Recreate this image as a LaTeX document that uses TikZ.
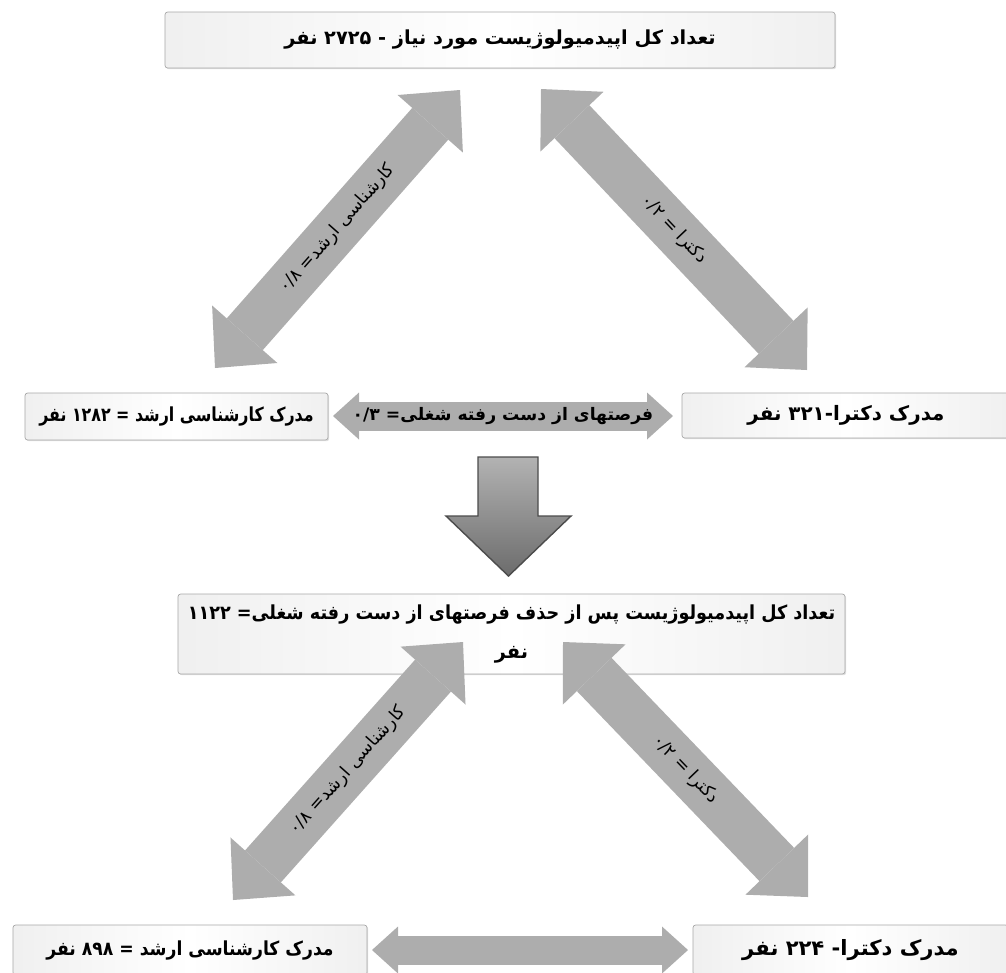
\documentclass[tikz,border=0pt]{standalone}
\usepackage{graphicx}
\usepackage{fontspec}
\newfontfamily\fafont[Script=Arabic]{DejaVu Sans}
\TeXXeTstate=1
\usetikzlibrary{arrows.meta}
\usetikzlibrary{shadows}
\usetikzlibrary{positioning}

\definecolor{arrowgray}{HTML}{ADADAD}
\definecolor{downgray}{HTML}{7F7F7F}
\definecolor{boxline}{HTML}{A8A8A8}

\begin{document}
\begin{tikzpicture}[x=0.2mm, y=-0.2mm]
  \tikzstyle{infobox} = [draw=boxline, rounded corners=1.5pt, inner sep=0pt,
                         left color=gray!12, right color=gray!12, middle color=white,
                         drop shadow={shadow xshift=0.7pt, shadow yshift=-0.7pt, opacity=0.25}]
  \tikzset{boxtext/.style={font=\fafont\bfseries\fontsize{#1}{22}\selectfont},
           boxtext/.default=11}
  \tikzstyle{fatarrow} = [draw=arrowgray, line width=9.6mm,
                          {Triangle[length=9mm, width=17.4mm, line width=0pt]}-{Triangle[length=9mm, width=17.4mm, line width=0pt]}]
  \tikzstyle{flatarrow} = [draw=arrowgray, line width=5.8mm,
                           {Triangle[length=5.2mm, width=9.4mm, line width=0pt]}-{Triangle[length=5.2mm, width=9.4mm, line width=0pt]}]
  \tikzstyle{arrtext} = [font=\fafont\fontsize{10}{12}\selectfont, text=black]

  \useasboundingbox (0,0) rectangle (1006,972);

  % Boxes, first round
  \node[infobox, boxtext, minimum width=134mm, minimum height=11.2mm] (total) at (500,40)
    {\beginR تعداد کل اپیدمیولوژیست مورد نیاز - ۲۷۲۵ نفر\endR};
  \node[infobox, boxtext, minimum width=60.6mm, minimum height=9.4mm] (ms) at (176.5,416.5)
    {\scalebox{0.82}[1]{\beginR مدرک کارشناسی ارشد = ۱۲۸۲ نفر\endR}};
  \node[infobox, boxtext=11.3, minimum width=65.6mm, minimum height=9mm] (phd) at (846,415.5)
    {\beginR مدرک دکترا-۳۲۱ نفر\endR};

  % Boxes, second round
  \node[infobox, boxtext, align=center, minimum width=133.4mm, minimum height=16mm] (rest) at (511.5,634)
    {\scalebox{0.91}[1]{\beginR تعداد کل اپیدمیولوژیست پس از حذف فرصتهای از دست رفته شغلی= ۱۱۲۲\endR}\\ \beginR نفر\endR};
  \node[infobox, boxtext, minimum width=70.8mm, minimum height=10mm] (ms2) at (190,950)
    {\scalebox{0.89}[1]{\beginR مدرک کارشناسی ارشد = ۸۹۸ نفر\endR}};
  \node[infobox, boxtext=12, minimum width=63mm, minimum height=10mm] (phd2) at (850.5,950)
    {\beginR مدرک دکترا- ۲۲۴ نفر\endR};

  % Arrow ends
  \coordinate (ul-a) at (215,368);  \coordinate (ul-b) at (460,90);
  \coordinate (ur-a) at (541,89);   \coordinate (ur-b) at (807,370);
  \coordinate (mid-a) at (333,416); \coordinate (mid-b) at (673,416);
  \coordinate (ll-a) at (233,900);  \coordinate (ll-b) at (463,642);
  \coordinate (lr-a) at (563,642);  \coordinate (lr-b) at (808,897);
  \coordinate (bot-a) at (372,950); \coordinate (bot-b) at (688,950);

  % Arrows
  \draw[fatarrow] (ul-a) -- node[sloped, arrtext] {\beginR کارشناسی ارشد= ۰/۸\endR} (ul-b);
  \draw[fatarrow] (ur-a) -- node[sloped, arrtext] {\beginR دکترا = ۰/۲\endR} (ur-b);
  \draw[flatarrow] (mid-a) -- node[boxtext=9.8] {\beginR فرصتهای از دست رفته شغلی= ۰/۳\endR} (mid-b);
  \draw[fatarrow] (ll-a) -- node[sloped, arrtext] {\beginR کارشناسی ارشد= ۰/۸\endR} (ll-b);
  \draw[fatarrow] (lr-a) -- node[sloped, arrtext] {\beginR دکترا = ۰/۲\endR} (lr-b);
  \draw[flatarrow] (bot-a) -- (bot-b);

  % Down arrow
  \coordinate (down) at (508,457);
  \draw[draw=black!70, line width=0.8pt, top color=gray!60, bottom color=downgray!85!black]
    (down) ++(-30,0) -- ++(60,0) -- ++(0,59) -- ++(33,0) -- (508.5,576) -- (446,516) -- ++(32,0) -- cycle;

\end{tikzpicture}
\end{document}
